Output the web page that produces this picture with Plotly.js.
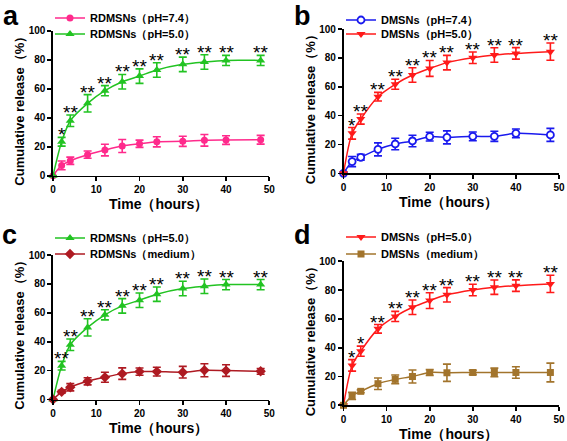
<!DOCTYPE html>
<html>
<head>
<meta charset="utf-8">
<script src="https://cdn.plot.ly/plotly-3.0.1.min.js"></script>
<style>html,body{margin:0;padding:0;background:#fff}#chart{width:567px;height:441px}</style>
</head>
<body>
<div id="chart"></div>
<script>
// ---- data ----
const time = [0, 2, 4, 8, 12, 16, 20, 24, 30, 35, 40, 48];

const rdmsnsPH74 = [0, 7.1, 10.3, 14.5, 17.7, 20.5, 22.0, 23.4, 23.7, 24.4, 24.6, 24.8];
const rdmsnsPH74Err = [0, 3, 2.5, 2.5, 4, 4.5, 2.5, 3.5, 3.5, 4, 3, 3];
const rdmsnsPH50 = [0, 23.4, 37.9, 49.9, 58.6, 64.8, 68.7, 72.9, 76.8, 78.4, 79.5, 79.5];
const rdmsnsPH50Err = [0, 3, 4, 6, 3.5, 5, 5, 5, 5, 5, 3.5, 3.5];
const rdmsnsMedium = [0, 5.3, 8.5, 12.6, 15.4, 17.9, 19.3, 19.3, 18.9, 20.2, 20.0, 19.5];
const rdmsnsMediumErr = [0, 1, 2.5, 2.5, 3.5, 4, 2.5, 3, 4, 4.5, 4, 2];

const dmsnsPH74 = [0, 8.1, 11.1, 16.6, 20.3, 22.4, 25.4, 24.9, 25.6, 25.6, 27.7, 26.6];
const dmsnsPH74Err = [0, 3.5, 2, 4.5, 4, 4, 3, 4.5, 3, 3.5, 3, 4.5];
const dmsnsPH50 = [0, 27.7, 37.6, 53.1, 61.7, 68.1, 72.7, 76.7, 80.1, 82.0, 83.1, 84.3];
const dmsnsPH50Err = [0, 4, 3.5, 3, 3.5, 5, 5.5, 5, 4, 5, 4, 6];
const dmsnsMedium = [0, 6.5, 9.7, 15.0, 18.0, 20.0, 22.8, 22.6, 22.8, 22.8, 22.8, 22.8];
const dmsnsMediumErr = [0, 2.5, 1, 4, 3, 4.5, 2, 6, 1.5, 3, 4, 6.5];

const starsA = ['', '*', '**', '**', '**', '**', '**', '**', '**', '**', '**', '**'];
const starsB = ['', '*', '**', '**', '**', '**', '**', '**', '**', '**', '**', '**'];
const starsC = ['', '**', '**', '**', '**', '**', '**', '**', '**', '**', '**', '**'];
const starsD = ['', '*', '*', '**', '**', '**', '**', '**', '**', '**', '**', '**'];

const xTicks = [0, 10, 20, 30, 40, 50];
const yTicks = [0, 20, 40, 60, 80, 100];
const panelLabels = ['a', 'b', 'c', 'd'];
const xTitle = 'Time（hours）';
const yTitle = 'Cumulative release（%）';

// ---- styles ----
const W = 567, H = 441;
const FONT = 'Liberation Sans, Arial, sans-serif';
const C = {
  pink: '#ff2a8c', green: '#22c322', blue: '#1a1aee', red: '#ff1a1a',
  darkred: '#ae1a22', brown: '#a2742c'
};

function px(x) { return x / W; }
function py(y) { return 1 - y / H; }

function series(name, y, err, color, symbol, xa, ya, legend, size, open) {
  return {
    type: 'scatter', mode: 'lines+markers', name: name,
    x: time, y: y,
    xaxis: xa, yaxis: ya, legend: legend,
    line: {color: color, width: 1.5, shape: 'spline', smoothing: 0.8},
    marker: {
      symbol: symbol, size: size || 7,
      color: open ? '#ffffff' : color,
      line: {color: color, width: open ? 1.8 : 0}
    },
    error_y: {type: 'data', array: err, visible: true, color: color, thickness: 1.6, width: 4},
    cliponaxis: false
  };
}

const traces = [
  series('RDMSNs（pH=7.4）', rdmsnsPH74, rdmsnsPH74Err, C.pink, 'circle', 'x', 'y', 'legend', 7),
  series('RDMSNs（pH=5.0）', rdmsnsPH50, rdmsnsPH50Err, C.green, 'triangle-up', 'x', 'y', 'legend2', 8),
  series('DMSNs（pH=7.4）', dmsnsPH74, dmsnsPH74Err, C.blue, 'circle', 'x2', 'y2', 'legend3', 7, true),
  series('DMSNs（pH=5.0）', dmsnsPH50, dmsnsPH50Err, C.red, 'triangle-down', 'x2', 'y2', 'legend4', 8),
  series('RDMSNs（pH=5.0）', rdmsnsPH50, rdmsnsPH50Err, C.green, 'triangle-up', 'x3', 'y3', 'legend5', 8),
  series('RDMSNs（medium）', rdmsnsMedium, rdmsnsMediumErr, C.darkred, 'diamond', 'x3', 'y3', 'legend6', 8),
  series('DMSNs（pH=5.0）', dmsnsPH50, dmsnsPH50Err, C.red, 'triangle-down', 'x4', 'y4', 'legend7', 8),
  series('DMSNs（medium）', dmsnsMedium, dmsnsMediumErr, C.brown, 'square', 'x4', 'y4', 'legend8', 7)
];

// pixel boxes [left, right, top(100), bottom(0)]
const boxes = [
  [53, 269.3, 30.7, 175.7],
  [343.5, 559, 29, 173.3],
  [53, 269.3, 255, 399.5],
  [343.5, 559, 261.3, 405.3]
];

function xaxis(i) {
  const b = boxes[i];
  return {
    domain: [px(b[0]), px(b[1])], range: [0, 50], anchor: 'y' + (i ? i + 1 : ''),
    tickvals: xTicks, ticks: 'outside', ticklen: 4, tickwidth: 1.6, tickcolor: '#000',
    showline: true, linecolor: '#000', linewidth: 1.6, showgrid: false, zeroline: false,
    tickfont: {family: FONT, size: 10, color: '#000', weight: 'bold'},
    automargin: false
  };
}
function yaxis(i) {
  const b = boxes[i];
  return {
    domain: [py(b[3]), py(b[2])], range: [0, 100], anchor: 'x' + (i ? i + 1 : ''),
    tickvals: yTicks, ticks: 'outside', ticklen: 4, tickwidth: 1.6, tickcolor: '#000',
    showline: true, linecolor: '#000', linewidth: 1.6, showgrid: false, zeroline: false,
    tickfont: {family: FONT, size: 10, color: '#000', weight: 'bold'},
    automargin: false
  };
}

const annotations = [];
const starSets = [
  [starsA, rdmsnsPH50, rdmsnsPH50Err],
  [starsB, dmsnsPH50, dmsnsPH50Err],
  [starsC, rdmsnsPH50, rdmsnsPH50Err],
  [starsD, dmsnsPH50, dmsnsPH50Err]
];
starSets.forEach(function (s, k) {
  const suffix = k ? String(k + 1) : '';
  s[0].forEach(function (lab, i) {
    if (!lab) return;
    annotations.push({
      x: time[i], y: s[1][i] + s[2][i], xref: 'x' + suffix, yref: 'y' + suffix,
      text: lab, showarrow: false, yanchor: 'bottom', xanchor: 'center', yshift: -10,
      font: {family: FONT, size: 19, color: '#000'}
    });
  });
});

// axis titles (as text placed beside each panel)
boxes.forEach(function (b) {
  annotations.push({
    x: px((b[0] + b[1]) / 2 - 3), y: py(b[3] + 28.5), xref: 'paper', yref: 'paper',
    xanchor: 'center', yanchor: 'middle', showarrow: false, text: xTitle,
    font: {family: FONT, size: 14, color: '#000', weight: 'bold'}
  });
  annotations.push({
    x: px(b[0] - 33.5), y: py((b[2] + b[3]) / 2 + 5), xref: 'paper', yref: 'paper',
    xanchor: 'center', yanchor: 'middle', showarrow: false, text: yTitle, textangle: -90,
    font: {family: FONT, size: 13, color: '#000', weight: 'bold'}
  });
});

const labelPos = [[1, -1], [292, -1], [0, 218], [292, 218]];
panelLabels.forEach(function (t, k) {
  annotations.push({
    x: px(labelPos[k][0]), y: py(labelPos[k][1]), xref: 'paper', yref: 'paper',
    xanchor: 'left', yanchor: 'top', showarrow: false, text: t,
    font: {family: FONT, size: 27, color: '#000', weight: 'bold'}
  });
});

function legend(xp, yc) {
  return {
    x: px(xp), y: py(yc), xanchor: 'left', yanchor: 'middle', bgcolor: 'rgba(0,0,0,0)',
    font: {family: FONT, size: 11, color: '#000', weight: 'bold'},
    itemwidth: 30
  };
}

const layout = {
  width: W, height: H, margin: {l: 0, r: 0, t: 0, b: 0},
  paper_bgcolor: '#fff', plot_bgcolor: '#fff', showlegend: true,
  xaxis: xaxis(0), yaxis: yaxis(0),
  xaxis2: xaxis(1), yaxis2: yaxis(1),
  xaxis3: xaxis(2), yaxis3: yaxis(2),
  xaxis4: xaxis(3), yaxis4: yaxis(3),
  legend: legend(50, 18),
  legend2: legend(50, 34),
  legend3: legend(341, 20),
  legend4: legend(341, 34),
  legend5: legend(50, 238),
  legend6: legend(50, 254),
  legend7: legend(341, 237),
  legend8: legend(341, 254),
  annotations: annotations
};

Plotly.newPlot('chart', traces, layout, {displayModeBar: false, staticPlot: true});
</script>
</body>
</html>
